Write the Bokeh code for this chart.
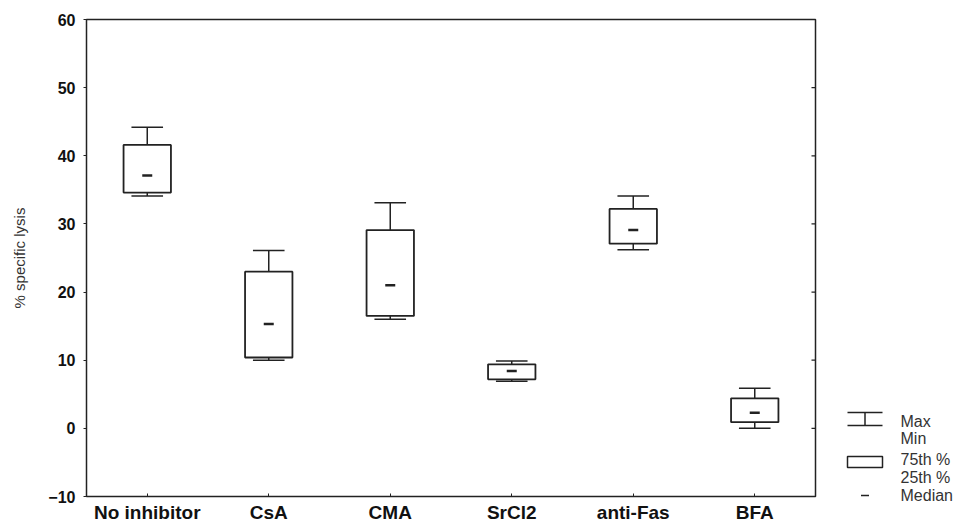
from bokeh.plotting import figure
from bokeh.models import Range1d, FixedTicker
from bokeh.transform import dodge
from bokeh.layouts import row
from bokeh.embed import file_html
from bokeh.resources import INLINE
from bokeh.core.properties import value

# Box-plot summaries of % specific lysis per treatment
groups = ["No inhibitor", "CsA", "CMA", "SrCl2", "anti-Fas", "BFA"]
max_vals = [44.2, 26.1, 33.1, 9.9, 34.1, 5.9]
q75_vals = [41.6, 23.0, 29.1, 9.4, 32.2, 4.4]
median_vals = [37.1, 15.3, 21.0, 8.4, 29.1, 2.3]
q25_vals = [34.6, 10.4, 16.5, 7.2, 27.1, 0.9]
min_vals = [34.1, 10.0, 16.0, 6.9, 26.2, 0.0]
y_ticks = [-10, 0, 10, 20, 30, 40, 50, 60]

legend_labels = ["Max", "Min", "75th %", "25th %", "Median"]

INK = "#222222"
FONT = "Liberation Sans"
W, H = 968, 525
FRAME_TOP, FRAME_BOTTOM = 19, 497

p = figure(
    x_range=groups, y_range=Range1d(-10, 60),
    width=830, height=H,
    min_border_left=86, min_border_right=15,
    min_border_top=FRAME_TOP, min_border_bottom=H - FRAME_BOTTOM,
    output_backend="svg", toolbar_location=None,
)
p.background_fill_color = "white"
p.border_fill_color = "white"
p.outline_line_color = INK
p.outline_line_width = 1.5
p.grid.visible = False

# y axis
p.yaxis.ticker = FixedTicker(ticks=y_ticks)
p.yaxis.axis_label = "% specific lysis"
p.yaxis.axis_label_text_font = FONT
p.yaxis.axis_label_text_font_style = "normal"
p.yaxis.axis_label_text_font_size = "15px"
p.yaxis.axis_label_text_color = "#333333"
p.yaxis.axis_label_standoff = 17
p.yaxis.major_label_text_font = FONT
p.yaxis.major_label_text_font_style = "bold"
p.yaxis.major_label_text_font_size = "16px"
p.yaxis.major_label_text_color = "#111111"
p.yaxis.major_label_standoff = 8
p.yaxis.major_tick_out = 3
p.yaxis.major_tick_in = 0
p.yaxis.minor_tick_line_color = None
p.yaxis.axis_line_color = INK
p.yaxis.major_tick_line_color = INK

# x axis
p.xaxis.major_label_text_font = FONT
p.xaxis.major_label_text_font_style = "bold"
p.xaxis.major_label_text_font_size = "19px"
p.xaxis.major_label_text_color = "#111111"
p.xaxis.major_label_standoff = 5
p.xaxis.major_tick_out = 0
p.xaxis.major_tick_in = 3
p.xaxis.axis_line_color = INK
p.xaxis.major_tick_line_color = INK

src = dict(g=groups, mx=max_vals, q75=q75_vals, med=median_vals,
           q25=q25_vals, mn=min_vals)

# short inward ticks along the right-hand frame edge
edge = dict(g=[groups[-1]] * len(y_ticks), y=y_ticks)
p.scatter(x=dodge("g", 0.5, range=p.x_range), y="y", source=edge,
          marker="dash", size=8, line_color=INK, line_width=1.2)

cap = 0.13
# whisker stems
p.segment(x0="g", y0="q75", x1="g", y1="mx", source=src,
          line_color=INK, line_width=1.5)
p.segment(x0="g", y0="mn", x1="g", y1="q25", source=src,
          line_color=INK, line_width=1.5)
# whisker caps
p.segment(x0=dodge("g", -cap, range=p.x_range), y0="mx",
          x1=dodge("g", cap, range=p.x_range), y1="mx", source=src,
          line_color=INK, line_width=1.5)
p.segment(x0=dodge("g", -cap, range=p.x_range), y0="mn",
          x1=dodge("g", cap, range=p.x_range), y1="mn", source=src,
          line_color=INK, line_width=1.5)
# interquartile boxes
p.vbar(x="g", bottom="q25", top="q75", width=0.39, source=src,
       fill_color="white", line_color=INK, line_width=1.8)
# medians
p.scatter(x="g", y="med", source=src, marker="dash", size=10,
          line_color=INK, line_width=2.5)

# ---- key panel on the right (pixel-like coordinates, y down) ----
leg = figure(width=W - 830, height=H, x_range=Range1d(0, W - 830),
             y_range=Range1d(H, 0), output_backend="svg",
             toolbar_location=None, min_border=0)
leg.frame_align = False
leg.axis.visible = False
leg.grid.visible = False
leg.outline_line_color = None
leg.background_fill_color = "white"
leg.border_fill_color = "white"

kx0, kx1, kxc = 17, 52, 34.5
leg.segment(x0=[kx0, kx0, kxc], y0=[412, 425, 412],
            x1=[kx1, kx1, kxc], y1=[412, 425, 425],
            line_color=INK, line_width=1.5)
leg.quad(left=[kx0], right=[kx1], top=[456], bottom=[467],
         fill_color="white", line_color=INK, line_width=1.5)
leg.scatter(x=[kxc], y=[495], marker="dash", size=8,
            line_color=INK, line_width=1.5)
leg.text(x=[70] * 5, y=[421, 438, 459, 477, 495], text=legend_labels,
         text_font=value(FONT), text_font_size="16px",
         text_color="#333333", text_baseline="middle", text_align="left")

layout = row(p, leg, spacing=0)
open("out.html", "w").write(file_html(layout, INLINE))
